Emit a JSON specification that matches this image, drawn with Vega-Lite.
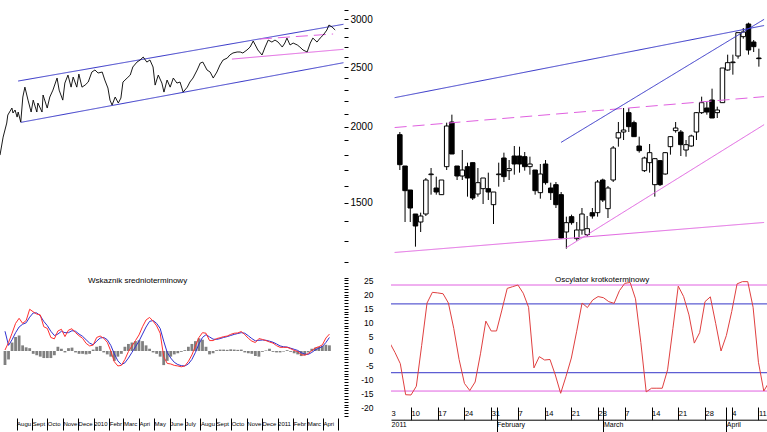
{
 "$schema": "https://vega.github.io/schema/vega-lite/v6.json",
 "padding": {"left": 0, "top": 2, "right": 0, "bottom": 0},
 "background": "white",
 "config": {"font": "Liberation Sans", "view": {"stroke": null}, "axis": {"grid": false, "labelColor": "black", "tickColor": "black", "domainColor": "black"}},
 "datasets": {
  "price": [
   {"d":"2009-07-09","v":1796},{"d":"2009-07-15","v":1922},{"d":"2009-07-22","v":2027},{"d":"2009-07-24","v":2089},{"d":"2009-08-01","v":2145},{"d":"2009-08-03","v":2105},{"d":"2009-08-07","v":2129},{"d":"2009-08-11","v":2073},{"d":"2009-08-13","v":2113},{"d":"2009-08-18","v":2034},{"d":"2009-08-22","v":2236},{"d":"2009-08-26","v":2321},{"d":"2009-09-01","v":2210},{"d":"2009-09-07","v":2113},{"d":"2009-09-11","v":2210},{"d":"2009-09-18","v":2113},{"d":"2009-09-20","v":2186},{"d":"2009-09-28","v":2113},{"d":"2009-09-30","v":2253},{"d":"2009-10-08","v":2145},{"d":"2009-10-13","v":2236},{"d":"2009-10-19","v":2295},{"d":"2009-10-27","v":2402},{"d":"2009-10-31","v":2295},{"d":"2009-11-07","v":2210},{"d":"2009-11-11","v":2357},{"d":"2009-11-17","v":2429},{"d":"2009-11-23","v":2321},{"d":"2009-11-27","v":2411},{"d":"2009-12-04","v":2321},{"d":"2009-12-08","v":2438},{"d":"2009-12-14","v":2321},{"d":"2009-12-20","v":2339},{"d":"2009-12-26","v":2366},{"d":"2010-01-02","v":2457},{"d":"2010-01-08","v":2476},{"d":"2010-01-14","v":2448},{"d":"2010-01-22","v":2457},{"d":"2010-01-27","v":2384},{"d":"2010-02-02","v":2313},{"d":"2010-02-06","v":2210},{"d":"2010-02-10","v":2169},{"d":"2010-02-16","v":2236},{"d":"2010-02-22","v":2186},{"d":"2010-02-27","v":2227},{"d":"2010-03-03","v":2366},{"d":"2010-03-11","v":2402},{"d":"2010-03-17","v":2429},{"d":"2010-03-22","v":2504},{"d":"2010-03-30","v":2551},{"d":"2010-04-05","v":2571},{"d":"2010-04-11","v":2600},{"d":"2010-04-18","v":2551},{"d":"2010-04-24","v":2571},{"d":"2010-04-30","v":2504},{"d":"2010-05-04","v":2339},{"d":"2010-05-10","v":2429},{"d":"2010-05-17","v":2357},{"d":"2010-05-21","v":2278},{"d":"2010-05-27","v":2384},{"d":"2010-06-02","v":2321},{"d":"2010-06-08","v":2402},{"d":"2010-06-15","v":2357},{"d":"2010-06-21","v":2366},{"d":"2010-06-27","v":2278},{"d":"2010-07-05","v":2321},{"d":"2010-07-10","v":2366},{"d":"2010-07-16","v":2402},{"d":"2010-07-24","v":2476},{"d":"2010-07-30","v":2542},{"d":"2010-08-04","v":2551},{"d":"2010-08-12","v":2476},{"d":"2010-08-18","v":2457},{"d":"2010-08-24","v":2402},{"d":"2010-08-31","v":2457},{"d":"2010-09-06","v":2523},{"d":"2010-09-12","v":2571},{"d":"2010-09-20","v":2590},{"d":"2010-09-25","v":2620},{"d":"2010-10-01","v":2640},{"d":"2010-10-09","v":2650},{"d":"2010-10-15","v":2650},{"d":"2010-10-20","v":2640},{"d":"2010-10-28","v":2670},{"d":"2010-11-03","v":2700},{"d":"2010-11-09","v":2762},{"d":"2010-11-13","v":2721},{"d":"2010-11-18","v":2670},{"d":"2010-11-26","v":2620},{"d":"2010-12-02","v":2700},{"d":"2010-12-08","v":2772},{"d":"2010-12-15","v":2751},{"d":"2010-12-21","v":2772},{"d":"2010-12-27","v":2751},{"d":"2011-01-04","v":2700},{"d":"2011-01-09","v":2741},{"d":"2011-01-13","v":2793},{"d":"2011-01-19","v":2721},{"d":"2011-01-25","v":2741},{"d":"2011-02-02","v":2721},{"d":"2011-02-07","v":2700},{"d":"2011-02-13","v":2670},{"d":"2011-02-21","v":2650},{"d":"2011-02-27","v":2741},{"d":"2011-03-04","v":2793},{"d":"2011-03-12","v":2751},{"d":"2011-03-18","v":2793},{"d":"2011-03-24","v":2825},{"d":"2011-03-31","v":2879},{"d":"2011-04-04","v":2934},{"d":"2011-04-10","v":2912},{"d":"2011-04-16","v":2879}
  ],
  "tlLines": [
   {"id":"up","d":"2009-08-13","v":2375},{"id":"up","d":"2011-05-02","v":2942},
   {"id":"lo","d":"2009-08-18","v":2032},{"id":"lo","d":"2011-05-02","v":2545},
   {"id":"ms","d":"2010-09-29","v":2580},{"id":"ms","d":"2011-05-02","v":2677},
   {"id":"md","d":"2010-11-22","v":2783},{"id":"md","d":"2011-04-12","v":2836}
  ],
  "macd": [
   {"d":"2009-07-09","m":0.35,"s":7.0,"h":-5},{"d":"2009-07-16","m":3.0,"s":2.0,"h":-3},{"d":"2009-07-23","m":6.3,"s":4.0,"h":3},{"d":"2009-07-30","m":9.8,"s":6.5,"h":5},{"d":"2009-08-06","m":11.6,"s":8.5,"h":5.5},{"d":"2009-08-13","m":9.8,"s":9.5,"h":2},{"d":"2009-08-20","m":10.8,"s":10.0,"h":1.3},{"d":"2009-08-27","m":14.8,"s":12.0,"h":1},{"d":"2009-09-03","m":13.9,"s":13.5,"h":-1},{"d":"2009-09-10","m":13.1,"s":13.5,"h":-1.5},{"d":"2009-09-17","m":12.8,"s":12.5,"h":-2},{"d":"2009-09-24","m":8.6,"s":10.5,"h":-2.5},{"d":"2009-10-01","m":8.0,"s":9.0,"h":-2.5},{"d":"2009-10-08","m":4.8,"s":7.0,"h":-2.5},{"d":"2009-10-15","m":4.3,"s":5.5,"h":-1.5},{"d":"2009-10-22","m":7.1,"s":6.0,"h":1.5},{"d":"2009-10-29","m":7.7,"s":7.0,"h":0.8},{"d":"2009-11-05","m":5.1,"s":6.5,"h":-0.5},{"d":"2009-11-12","m":7.4,"s":6.5,"h":1},{"d":"2009-11-19","m":7.9,"s":7.2,"h":1.2},{"d":"2009-11-26","m":6.5,"s":7.0,"h":-0.5},{"d":"2009-12-03","m":5.4,"s":6.0,"h":-1},{"d":"2009-12-10","m":4.5,"s":5.2,"h":-1},{"d":"2009-12-17","m":2.7,"s":4.0,"h":-1.2},{"d":"2009-12-24","m":1.8,"s":2.8,"h":-1},{"d":"2009-12-31","m":2.1,"s":2.2,"h":0.5},{"d":"2010-01-07","m":4.8,"s":3.5,"h":1.5},{"d":"2010-01-14","m":5.3,"s":4.6,"h":1.8},{"d":"2010-01-21","m":4.5,"s":4.8,"h":-0.5},{"d":"2010-01-28","m":3.1,"s":4.0,"h":-1.2},{"d":"2010-02-04","m":0,"s":2.0,"h":-2},{"d":"2010-02-11","m":-3.8,"s":-1.0,"h":-3.5},{"d":"2010-02-18","m":-5.3,"s":-3.5,"h":-2},{"d":"2010-02-25","m":-5.1,"s":-4.8,"h":-1},{"d":"2010-03-04","m":-3.0,"s":-4.2,"h":1.5},{"d":"2010-03-11","m":-0.2,"s":-2.5,"h":2.5},{"d":"2010-03-18","m":1.8,"s":-0.5,"h":3},{"d":"2010-03-25","m":3.7,"s":1.5,"h":3.5},{"d":"2010-04-01","m":5.7,"s":3.5,"h":3.8},{"d":"2010-04-08","m":8.6,"s":6.0,"h":3.5},{"d":"2010-04-15","m":11.0,"s":8.5,"h":2},{"d":"2010-04-22","m":11.9,"s":10.5,"h":0.8},{"d":"2010-04-29","m":10.6,"s":10.8,"h":-0.5},{"d":"2010-05-06","m":8.9,"s":9.8,"h":-1},{"d":"2010-05-13","m":6.3,"s":8.0,"h":-2},{"d":"2010-05-20","m":-2.0,"s":3.5,"h":-5},{"d":"2010-05-27","m":-4.4,"s":-0.5,"h":-3.5},{"d":"2010-06-03","m":-4.6,"s":-2.5,"h":-2},{"d":"2010-06-10","m":-5.1,"s":-4.0,"h":-1.2},{"d":"2010-06-17","m":-5.3,"s":-4.8,"h":-0.8},{"d":"2010-06-24","m":-5.6,"s":-5.2,"h":-0.3},{"d":"2010-07-01","m":-5.3,"s":-5.3,"h":0.3},{"d":"2010-07-08","m":-3.7,"s":-4.6,"h":1.5},{"d":"2010-07-15","m":-1.4,"s":-3.0,"h":2.5},{"d":"2010-07-22","m":1.8,"s":-0.5,"h":3.5},{"d":"2010-07-29","m":4.8,"s":2.5,"h":4.5},{"d":"2010-08-05","m":6.5,"s":4.8,"h":4},{"d":"2010-08-12","m":6.3,"s":5.8,"h":1.5},{"d":"2010-08-19","m":3.7,"s":5.0,"h":-1.2},{"d":"2010-08-26","m":3.7,"s":4.2,"h":-0.8},{"d":"2010-09-02","m":4.4,"s":4.1,"h":0.3},{"d":"2010-09-09","m":4.7,"s":4.4,"h":0.5},{"d":"2010-09-16","m":5.1,"s":4.8,"h":0.5},{"d":"2010-09-23","m":5.3,"s":5.1,"h":0.4},{"d":"2010-09-30","m":5.9,"s":5.5,"h":0.6},{"d":"2010-10-07","m":6.3,"s":5.9,"h":0.5},{"d":"2010-10-14","m":6.4,"s":6.2,"h":0.4},{"d":"2010-10-21","m":6.9,"s":6.5,"h":0.5},{"d":"2010-10-28","m":5.8,"s":6.3,"h":-0.5},{"d":"2010-11-04","m":4.5,"s":5.4,"h":-0.8},{"d":"2010-11-11","m":3.5,"s":4.4,"h":-1},{"d":"2010-11-18","m":3.0,"s":3.6,"h":-1.8},{"d":"2010-11-25","m":4.4,"s":3.8,"h":-2},{"d":"2010-12-02","m":4.1,"s":3.9,"h":-0.3},{"d":"2010-12-09","m":3.7,"s":3.8,"h":0.2},{"d":"2010-12-16","m":3.2,"s":3.5,"h":0.8},{"d":"2010-12-23","m":2.8,"s":3.1,"h":-0.3},{"d":"2010-12-30","m":1.9,"s":2.5,"h":-0.5},{"d":"2011-01-06","m":1.3,"s":1.8,"h":-0.5},{"d":"2011-01-13","m":1.3,"s":1.5,"h":-0.2},{"d":"2011-01-20","m":1.3,"s":1.4,"h":0.3},{"d":"2011-01-27","m":0.8,"s":1.0,"h":-0.3},{"d":"2011-02-03","m":0.2,"s":0.6,"h":-0.8},{"d":"2011-02-10","m":-0.2,"s":0.2,"h":-1.2},{"d":"2011-02-17","m":-1.3,"s":-0.6,"h":-1.8},{"d":"2011-02-24","m":-1.5,"s":-1.1,"h":-1.5},{"d":"2011-03-03","m":-0.9,"s":-1.2,"h":-0.5},{"d":"2011-03-10","m":0.1,"s":-0.5,"h":0.8},{"d":"2011-03-17","m":1.1,"s":0.4,"h":1.2},{"d":"2011-03-24","m":1.5,"s":1.0,"h":1.5},{"d":"2011-03-31","m":2.2,"s":1.6,"h":1.8},{"d":"2011-04-07","m":4.6,"s":3.0,"h":2.2},{"d":"2011-04-14","m":6.0,"s":4.8,"h":2.0}
  ],
  "ohlc": [
   {"i":1,"o":2781,"h":2785,"l":2728,"c":2736},{"i":2,"o":2734,"h":2734,"l":2650,"c":2697},{"i":3,"o":2698,"h":2698,"l":2650,"c":2671},{"i":4,"o":2662,"h":2662,"l":2613,"c":2644},{"i":5,"o":2650,"h":2664,"l":2635,"c":2659},{"i":6,"o":2662,"h":2716,"l":2659,"c":2713},{"i":7,"o":2721,"h":2731,"l":2691,"c":2722},{"i":8,"o":2701,"h":2718,"l":2691,"c":2695},{"i":9,"o":2691,"h":2713,"l":2691,"c":2713},{"i":10,"o":2733,"h":2799,"l":2728,"c":2794},
   {"i":11,"o":2800,"h":2811,"l":2752,"c":2752},{"i":12,"o":2734,"h":2734,"l":2713,"c":2719},{"i":13,"o":2719,"h":2758,"l":2713,"c":2728},{"i":14,"o":2733,"h":2739,"l":2688,"c":2716},{"i":15,"o":2739,"h":2739,"l":2683,"c":2686},{"i":16,"o":2692,"h":2731,"l":2688,"c":2709},{"i":17,"o":2700,"h":2716,"l":2677,"c":2716},{"i":18,"o":2700,"h":2724,"l":2683,"c":2695},{"i":19,"o":2676,"h":2695,"l":2647,"c":2695},{"i":20,"o":2721,"h":2739,"l":2703,"c":2722},
   {"i":21,"o":2746,"h":2754,"l":2710,"c":2718},{"i":22,"o":2727,"h":2743,"l":2713,"c":2730},{"i":23,"o":2749,"h":2764,"l":2721,"c":2737},{"i":24,"o":2749,"h":2763,"l":2724,"c":2737},{"i":25,"o":2748,"h":2755,"l":2727,"c":2733},{"i":26,"o":2733,"h":2748,"l":2721,"c":2737},{"i":27,"o":2728,"h":2728,"l":2691,"c":2697},{"i":28,"o":2694,"h":2737,"l":2685,"c":2722},{"i":29,"o":2737,"h":2743,"l":2706,"c":2709},{"i":30,"o":2701,"h":2709,"l":2683,"c":2694},
   {"i":31,"o":2706,"h":2710,"l":2671,"c":2676},{"i":32,"o":2691,"h":2695,"l":2625,"c":2626},{"i":33,"o":2635,"h":2658,"l":2610,"c":2649},{"i":34,"o":2658,"h":2661,"l":2646,"c":2649},{"i":35,"o":2625,"h":2650,"l":2622,"c":2638},{"i":36,"o":2638,"h":2671,"l":2631,"c":2662},{"i":37,"o":2631,"h":2659,"l":2628,"c":2640},{"i":38,"o":2664,"h":2671,"l":2655,"c":2659},{"i":39,"o":2664,"h":2713,"l":2658,"c":2710},{"i":40,"o":2713,"h":2715,"l":2680,"c":2683},
   {"i":41,"o":2670,"h":2704,"l":2656,"c":2701},{"i":42,"o":2713,"h":2764,"l":2710,"c":2761},{"i":43,"o":2776,"h":2800,"l":2763,"c":2784},{"i":44,"o":2785,"h":2821,"l":2773,"c":2788},{"i":45,"o":2814,"h":2821,"l":2785,"c":2793},{"i":46,"o":2799,"h":2802,"l":2778,"c":2778},{"i":47,"o":2764,"h":2778,"l":2754,"c":2757},{"i":48,"o":2727,"h":2748,"l":2725,"c":2746},{"i":49,"o":2739,"h":2767,"l":2724,"c":2754},{"i":50,"o":2706,"h":2746,"l":2688,"c":2745},
   {"i":51,"o":2742,"h":2743,"l":2704,"c":2706},{"i":52,"o":2722,"h":2755,"l":2721,"c":2754},{"i":53,"o":2763,"h":2779,"l":2751,"c":2778},{"i":54,"o":2787,"h":2800,"l":2784,"c":2791},{"i":55,"o":2785,"h":2788,"l":2749,"c":2766},{"i":56,"o":2758,"h":2773,"l":2748,"c":2766},{"i":57,"o":2764,"h":2781,"l":2763,"c":2779},{"i":58,"o":2785,"h":2815,"l":2773,"c":2814},{"i":59,"o":2814,"h":2838,"l":2812,"c":2829},{"i":60,"o":2821,"h":2830,"l":2811,"c":2815},
   {"i":61,"o":2833,"h":2850,"l":2806,"c":2806},{"i":62,"o":2814,"h":2823,"l":2806,"c":2818},{"i":63,"o":2829,"h":2881,"l":2829,"c":2881},{"i":64,"o":2878,"h":2901,"l":2877,"c":2889},{"i":65,"o":2889,"h":2901,"l":2871,"c":2890},{"i":66,"o":2899,"h":2934,"l":2895,"c":2934},{"i":67,"o":2928,"h":2941,"l":2925,"c":2935},{"i":68,"o":2947,"h":2949,"l":2901,"c":2908},{"i":69,"o":2920,"h":2923,"l":2905,"c":2913},{"i":70,"o":2896,"h":2910,"l":2883,"c":2895}
  ],
  "trLines": [
   {"id":"blue","i":0,"v":2836.5},{"id":"blue","i":71,"v":2944.7},
   {"id":"md","i":0,"v":2791.7},{"id":"md","i":71,"v":2838},
   {"id":"ms","i":0,"v":2604.3},{"id":"ms","i":71,"v":2649.3},
   {"id":"r1","i":32,"v":2769.5},{"id":"r1","i":71,"v":2954},
   {"id":"r2","i":33,"v":2611.5},{"id":"r2","i":71,"v":2796}
  ],
  "osc": [
   {"i":0,"o":3},{"i":1,"o":-0.5},{"i":2,"o":-4.5},{"i":3,"o":-15.5},{"i":4,"o":-15.6},{"i":5,"o":-12.5},{"i":6,"o":2},{"i":7,"o":17},{"i":8,"o":20.8},{"i":9,"o":20.6},{"i":10,"o":20.3},{"i":11,"o":17},{"i":12,"o":8},{"i":13,"o":-3},{"i":14,"o":-11.5},{"i":15,"o":-14},{"i":16,"o":-11},{"i":17,"o":-1},{"i":18,"o":10.6},{"i":19,"o":7.1},{"i":20,"o":7.1},{"i":21,"o":14.5},{"i":22,"o":22.2},{"i":23,"o":22.8},{"i":24,"o":23.4},{"i":25,"o":20.5},{"i":26,"o":15.5},{"i":27,"o":-6},{"i":28,"o":-2},{"i":29,"o":-3.2},{"i":30,"o":-3},{"i":31,"o":-8.5},{"i":32,"o":-15},{"i":33,"o":-9},{"i":34,"o":-2.5},{"i":35,"o":7},{"i":36,"o":17},{"i":37,"o":15.4},{"i":38,"o":18.1},{"i":39,"o":19.3},{"i":40,"o":18.9},{"i":41,"o":17.5},{"i":42,"o":16.9},{"i":43,"o":21.4},{"i":44,"o":24},{"i":45,"o":24.3},{"i":46,"o":18.5},{"i":47,"o":3},{"i":48,"o":-14.5},{"i":49,"o":-13.2},{"i":50,"o":-13.2},{"i":51,"o":-13.2},{"i":52,"o":-6.7},{"i":53,"o":8},{"i":54,"o":23},{"i":55,"o":19.3},{"i":56,"o":12.8},{"i":57,"o":2.8},{"i":58,"o":6.5},{"i":59,"o":17.5},{"i":60,"o":19.2},{"i":61,"o":9.8},{"i":62,"o":0},{"i":63,"o":5.5},{"i":64,"o":14},{"i":65,"o":23.8},{"i":66,"o":24.6},{"i":67,"o":24.6},{"i":68,"o":15.5},{"i":69,"o":-4},{"i":70,"o":-14.2},{"i":71,"o":-11}
  ],
  "levels": [{"lv":23.4,"k":"o"},{"lv":16.7,"k":"n"},{"lv":-7.7,"k":"n"},{"lv":-14.2,"k":"o"}]
 },
 "bounds": "flush",
 "align": "each",
 "columns": 2,
 "spacing": {"row": 13, "column": 47},
 "concat": [
  {
   "width": 344, "height": 260,
   "resolve": {"axis": {"x": "independent", "y": "independent"}},
   "layer": [
    {
     "data": {"name": "tlLines"},
     "mark": {"type": "line", "strokeWidth": 1, "clip": true},
     "encoding": {
      "x": {"field": "d", "type": "temporal", "scale": {"type": "utc", "domain": [{"year":2009,"month":7,"date":9,"utc":true},{"year":2011,"month":5,"date":3,"utc":true}], "nice": false}, "axis": null},
      "y": {"field": "v", "type": "quantitative", "scale": {"type": "log", "domain": [1200, 3200], "nice": false}, "axis": {"orient": "right", "values": [1200,1300,1400,1500,1600,1700,1800,1900,2000,2100,2200,2300,2400,2500,2600,2700,2800,2900,3000,3100], "labelExpr": "datum.value % 500 == 0 ? '' + datum.value : ''", "tickSize": 4, "labelPadding": 2, "labelFontSize": 10, "domain": false, "title": null, "labelOverlap": false, "labelFlush": false, "labelBound": false}},
      "color": {"field": "id", "type": "nominal", "scale": {"domain": ["up","lo","ms","md"], "range": ["#3535c8","#3535c8","#e060e0","#e060e0"]}, "legend": null},
      "strokeDash": {"field": "id", "type": "nominal", "scale": {"domain": ["up","lo","ms","md"], "range": [[1,0],[1,0],[1,0],[12,6]]}, "legend": null}
     }
    },
    {
     "data": {"name": "price"},
     "mark": {"type": "line", "color": "black", "strokeWidth": 0.9, "clip": true},
     "encoding": {
      "x": {"field": "d", "type": "temporal", "axis": null},
      "y": {"field": "v", "type": "quantitative", "axis": null}
     }
    }
   ]
  },
  {
   "width": 376, "height": 260,
   "layer": [
    {
     "data": {"name": "ohlc"},
     "mark": {"type": "rule", "color": "black", "strokeWidth": 1, "clip": true},
     "encoding": {
      "x": {"field": "i", "type": "quantitative", "scale": {"domain": [0.26, 70.6], "nice": false, "zero": false}, "axis": null},
      "y": {"field": "l", "type": "quantitative", "scale": {"domain": [2590, 2980], "nice": false, "zero": false}, "axis": null},
      "y2": {"field": "h"}
     }
    },
    {
     "data": {"name": "ohlc"},
     "mark": {"type": "bar", "size": 4.5, "stroke": "black", "strokeWidth": 1, "clip": true},
     "encoding": {
      "x": {"field": "i", "type": "quantitative", "axis": null},
      "y": {"field": "o", "type": "quantitative", "axis": null},
      "y2": {"field": "c"},
      "fill": {"condition": {"test": "datum.c >= datum.o", "value": "white"}, "value": "black"}
     }
    },
    {
     "data": {"name": "trLines"},
     "mark": {"type": "line", "strokeWidth": 1, "clip": true},
     "encoding": {
      "x": {"field": "i", "type": "quantitative", "axis": null},
      "y": {"field": "v", "type": "quantitative", "axis": null},
      "color": {"field": "id", "type": "nominal", "scale": {"domain": ["blue","md","ms","r1","r2"], "range": ["#3b3bc0","#d050d0","#d050d0","#dd4040","#dd4040"]}, "legend": null},
      "strokeDash": {"field": "id", "type": "nominal", "scale": {"domain": ["blue","md","ms","r1","r2"], "range": [[1,0],[10,7],[1,0],[1,0],[1,0]]}, "legend": null}
     }
    }
   ]
  },
  {
   "width": 344, "height": 141,
   "title": {"text": "Wskaznik srednioterminowy", "anchor": "start", "frame": "group", "dx": 88, "offset": -15.7, "baseline": "middle", "fontSize": 8, "fontWeight": "normal", "color": "black"},
   "data": {"name": "macd"},
   "resolve": {"axis": {"x": "independent", "y": "independent"}},
   "layer": [
    {
     "mark": {"type": "bar", "size": 2.8, "color": "#808080", "clip": true},
     "encoding": {
      "x": {"field": "d", "type": "temporal", "scale": {"type": "utc", "domain": [{"year":2009,"month":7,"date":9,"utc":true},{"year":2011,"month":5,"date":3,"utc":true}], "nice": false},
       "axis": {"orient": "bottom", "values": [
        {"year":2009,"month":8,"date":1,"utc":true},{"year":2009,"month":9,"date":1,"utc":true},{"year":2009,"month":10,"date":1,"utc":true},{"year":2009,"month":11,"date":1,"utc":true},{"year":2009,"month":12,"date":1,"utc":true},
        {"year":2010,"month":1,"date":1,"utc":true},{"year":2010,"month":2,"date":1,"utc":true},{"year":2010,"month":3,"date":1,"utc":true},{"year":2010,"month":4,"date":1,"utc":true},{"year":2010,"month":5,"date":1,"utc":true},{"year":2010,"month":6,"date":1,"utc":true},{"year":2010,"month":7,"date":1,"utc":true},{"year":2010,"month":8,"date":1,"utc":true},{"year":2010,"month":9,"date":1,"utc":true},{"year":2010,"month":10,"date":1,"utc":true},{"year":2010,"month":11,"date":1,"utc":true},{"year":2010,"month":12,"date":1,"utc":true},
        {"year":2011,"month":1,"date":1,"utc":true},{"year":2011,"month":2,"date":1,"utc":true},{"year":2011,"month":3,"date":1,"utc":true},{"year":2011,"month":4,"date":1,"utc":true},{"year":2011,"month":5,"date":1,"utc":true}],
        "labelExpr": "utcyear(datum.value) == 2011 && utcmonth(datum.value) == 4 ? '' : (utcmonth(datum.value) == 0 ? utcFormat(datum.value, '%Y') : slice(utcFormat(datum.value, '%B'), 0, 4))",
        "offset": 2, "tickSize": 12, "labelPadding": -7, "labelAlign": "left", "labelBaseline": "middle", "labelDx": 1.3, "labelFontSize": 6, "domain": false, "title": null, "labelOverlap": false, "labelFlush": false, "labelBound": false}},
      "y": {"field": "h", "type": "quantitative", "scale": {"domain": [-23.05, 26.95], "nice": false},
       "axis": {"orient": "right", "values": [-23,-22,-21,-20,-19,-18,-17,-16,-15,-14,-13,-12,-11,-10,-9,-8,-7,-6,-5,-4,-3,-2,-1,0,1,2,3,4,5,6,7,8,9,10,11,12,13,14,15,16,17,18,19,20,21,22,23,24,25,26],
        "labelExpr": "datum.value % 5 == 0 && datum.value >= -20 && datum.value <= 25 ? '' + datum.value : ''",
        "tickSize": 4, "labelPadding": 25, "labelAlign": "right", "labelFontSize": 8.5, "domain": false, "title": null, "labelOverlap": false, "labelFlush": false, "labelBound": false}}
     }
    },
    {
     "mark": {"type": "line", "color": "#3030d0", "strokeWidth": 1, "clip": true},
     "encoding": {"x": {"field": "d", "type": "temporal", "axis": null}, "y": {"field": "s", "type": "quantitative", "axis": null}}
    },
    {
     "mark": {"type": "line", "color": "#ff3030", "strokeWidth": 1, "clip": true},
     "encoding": {"x": {"field": "d", "type": "temporal", "axis": null}, "y": {"field": "m", "type": "quantitative", "axis": null}}
    }
   ]
  },
  {
   "width": 376, "height": 132,
   "title": {"text": "Oscylator krotkoterminowy", "anchor": "start", "frame": "group", "dx": 164, "offset": -12.6, "baseline": "middle", "fontSize": 8, "fontWeight": "normal", "color": "black"},
   "resolve": {"axis": {"x": "independent"}},
   "layer": [
    {
     "data": {"name": "levels"},
     "mark": {"type": "rule", "strokeWidth": 1},
     "encoding": {
      "y": {"field": "lv", "type": "quantitative", "scale": {"domain": [-19.86, 26.95], "nice": false}, "axis": null},
      "color": {"field": "k", "type": "nominal", "scale": {"domain": ["o","n"], "range": ["#e040e0","#20208c"]}, "legend": null}
     }
    },
    {
     "data": {"name": "osc"},
     "mark": {"type": "line", "color": "#e04040", "strokeWidth": 1, "clip": true},
     "encoding": {
      "x": {"field": "i", "type": "quantitative", "scale": {"domain": [0.26, 70.6], "nice": false, "zero": false},
       "axis": {"orient": "bottom", "values": [0.27,4,9,14,19,20,24,29,34,39,40,44,49,54,59,63,64,69],
        "labelExpr": "datum.value < 1 ? '3' : (indexof([4,9,14,19,24,29,34,39,44,49,54,59,64,69], datum.value) >= 0 ? ['10','17','24','31','7','14','21','28','7','14','21','28','4','11'][indexof([4,9,14,19,24,29,34,39,44,49,54,59,64,69], datum.value)] : '')",
        "tickOpacity": {"condition": {"test": "datum.value < 1", "value": 0}, "value": 1},
        "offset": 0, "tickSize": 12.7, "labelPadding": -6.7, "labelAlign": "left", "labelBaseline": "middle", "labelDx": 3, "labelFontSize": 7.5, "domain": false, "title": null, "labelOverlap": false, "labelFlush": false, "labelBound": false}},
      "y": {"field": "o", "type": "quantitative", "axis": null}
     }
    },
    {
     "data": {"name": "osc"},
     "mark": {"type": "line", "opacity": 0, "clip": true},
     "encoding": {
      "x": {"field": "i", "type": "quantitative",
       "axis": {"orient": "bottom", "values": [0.28, 20, 40, 63],
        "labelExpr": "datum.value < 1 ? '2011' : (datum.value == 20 ? 'February' : (datum.value == 40 ? 'March' : 'April'))",
        "tickOpacity": {"condition": {"test": "datum.value < 1", "value": 0}, "value": 1},
        "offset": 12.7, "tickSize": 12, "labelPadding": -7, "labelAlign": "left", "labelBaseline": "middle", "labelDx": 1, "labelFontSize": 7, "domain": true, "title": null, "labelOverlap": false, "labelFlush": false, "labelBound": false}},
      "y": {"field": "o", "type": "quantitative", "axis": null}
     }
    }
   ]
  }
 ]
}
